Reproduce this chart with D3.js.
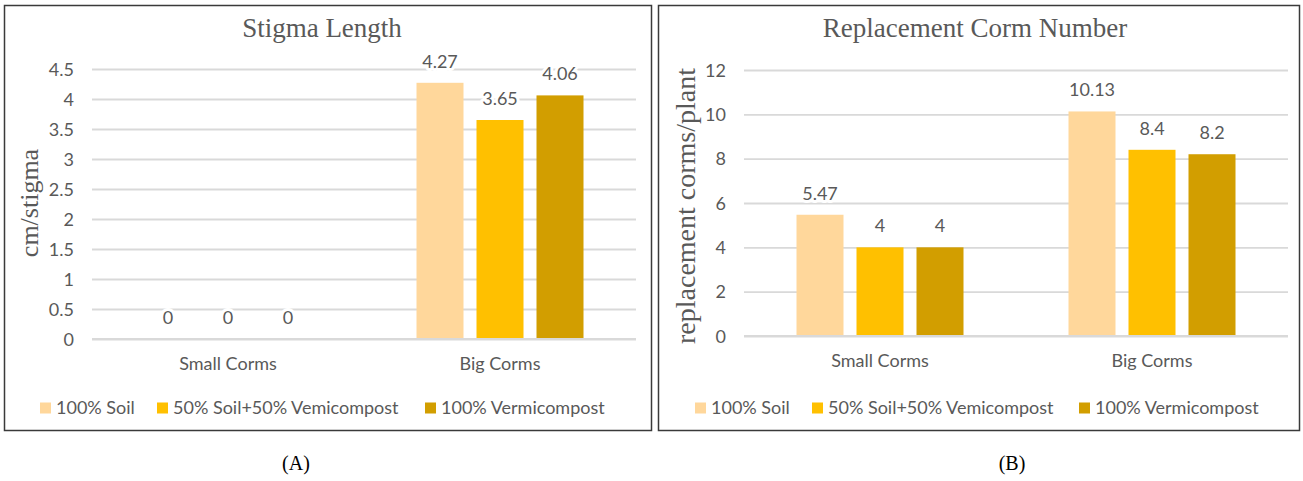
<!DOCTYPE html>
<html>
<head>
<meta charset="utf-8">
<script src="https://cdn.jsdelivr.net/npm/d3@7"></script>
<style>
  html, body { margin: 0; padding: 0; background: #fff; }
  svg { display: block; }
</style>
</head>
<body>
<svg id="chart" width="1303" height="481"></svg>
<script>
// Corm size groups and growing media
const categories = ["Small Corms", "Big Corms"];
const treatments = ["100% Soil", "50% Soil+50% Vemicompost", "100% Vermicompost"];

// Stigma length (cm/stigma) per treatment, ordered as categories
const stigmaSoil = [0, 4.27];
const stigmaMix = [0, 3.65];
const stigmaVermi = [0, 4.06];
const stigmaTicks = ["0", "0.5", "1", "1.5", "2", "2.5", "3", "3.5", "4", "4.5"];

// Replacement corm number (corms/plant)
const cormSoil = [5.47, 10.13];
const cormMix = [4, 8.4];
const cormVermi = [4, 8.2];
const cormTicks = ["0", "2", "4", "6", "8", "10", "12"];

const colors = ["#FFD79B", "#FFC000", "#D29E00"];
const textGrey = "#595959";
const gridGrey = "#D9D9D9";
const sansFont = "Lato, 'Open Sans', sans-serif";
const serifFont = "'Liberation Serif', 'DejaVu Serif', serif";
const sansSize = 18;

const svg = d3.select("#chart");

function drawPanel(opts) {
  const g = svg.append("g");
  const { box, plot } = opts;

  // outer frame
  g.append("rect")
    .attr("x", box.x).attr("y", box.y)
    .attr("width", box.w).attr("height", box.h)
    .attr("fill", "#fff").attr("stroke", "#3a3a3a").attr("stroke-width", 1.5);

  const tickVals = opts.ticks.map(Number);
  const y = d3.scaleLinear()
    .domain([0, d3.max(tickVals)])
    .range([plot.bottom, plot.top]);
  const x0 = d3.scaleBand().domain(categories)
    .range([plot.left, plot.right]).paddingInner(0).paddingOuter(0);
  // inner band holds three bars; outer space is the gap between groups
  const groupW = 167;
  const x1 = d3.scaleBand().domain(treatments)
    .range([0, groupW]).paddingInner(13 / 60).paddingOuter(0);

  // gridlines and y tick labels
  const yAxis = d3.axisLeft(y).tickValues(tickVals)
    .tickSize(-(plot.right - plot.left))
    .tickFormat((d, i) => opts.ticks[i]);
  const ag = g.append("g")
    .attr("transform", `translate(${plot.left},0)`)
    .call(yAxis);
  ag.select(".domain").remove();
  ag.selectAll(".tick line").attr("stroke", gridGrey).attr("stroke-width", 1.8);
  ag.selectAll(".tick text")
    .attr("x", -18).attr("dy", "0.35em")
    .attr("fill", textGrey).attr("font-family", sansFont).attr("font-size", sansSize);

  // bars
  const seriesData = opts.series.map((vals, si) =>
    vals.map((v, ci) => ({ v, cat: categories[ci], t: treatments[si], si })));
  const groups = g.selectAll(".grp").data(categories).join("g")
    .attr("transform", d => `translate(${x0(d) + (x0.bandwidth() - groupW) / 2},0)`);

  groups.each(function (cat, ci) {
    const gg = d3.select(this);
    const rows = seriesData.map(s => s[ci]);
    gg.selectAll("rect").data(rows).join("rect")
      .attr("x", d => x1(d.t))
      .attr("width", x1.bandwidth())
      .attr("y", d => y(d.v))
      .attr("height", d => y(0) - y(d.v))
      .attr("fill", d => colors[d.si]);
    // value labels with a white backing that interrupts gridlines
    const lab = gg.selectAll("g.lab").data(rows).join("g").attr("class", "lab")
      .attr("transform", d => `translate(${x1(d.t) + x1.bandwidth() / 2},${y(d.v) - 15})`);
    lab.append("text")
      .attr("text-anchor", "middle")
      .attr("fill", textGrey).attr("font-family", sansFont).attr("font-size", sansSize)
      .attr("stroke", "#fff").attr("stroke-width", 6).attr("stroke-linejoin", "round")
      .attr("paint-order", "stroke")
      .text(d => String(d.v));
  });

  // x axis baseline
  g.append("line")
    .attr("x1", plot.left).attr("x2", plot.right)
    .attr("y1", y(0)).attr("y2", y(0))
    .attr("stroke", gridGrey).attr("stroke-width", 1.8);

  // category labels
  g.selectAll(".cat").data(categories).join("text")
    .attr("x", d => x0(d) + x0.bandwidth() / 2)
    .attr("y", opts.catY)
    .attr("text-anchor", "middle").attr("dy", "0.35em")
    .attr("fill", textGrey).attr("font-family", sansFont).attr("font-size", sansSize)
    .text(d => d);

  // chart title
  g.append("text")
    .attr("x", opts.titleX).attr("y", 28).attr("dy", "0.35em")
    .attr("text-anchor", "middle")
    .attr("fill", textGrey).attr("font-family", serifFont).attr("font-size", 27)
    .text(opts.title);

  // y axis title
  g.append("text")
    .attr("transform", `translate(${opts.yTitleX},${opts.yTitleY}) rotate(-90)`)
    .attr("text-anchor", "middle").attr("dy", "0.35em")
    .attr("fill", textGrey).attr("font-family", serifFont).attr("font-size", opts.yTitleSize)
    .text(opts.yTitle);

  // legend
  const leg = g.selectAll(".leg").data(treatments).join("g")
    .attr("transform", (d, i) => `translate(${opts.legendX[i]},408)`);
  leg.append("rect")
    .attr("x", 0).attr("y", -5.5).attr("width", 11).attr("height", 11)
    .attr("fill", (d, i) => colors[i]);
  leg.append("text")
    .attr("x", 16).attr("dy", "0.35em")
    .attr("fill", textGrey).attr("font-family", sansFont).attr("font-size", sansSize)
    .text(d => d);

  // panel caption
  svg.append("text")
    .attr("x", opts.captionX).attr("y", 463).attr("dy", "0.35em")
    .attr("text-anchor", "middle")
    .attr("fill", "#000").attr("font-family", serifFont).attr("font-size", 20)
    .text(opts.caption);
}

drawPanel({
  box: { x: 4.5, y: 5.5, w: 647, h: 425 },
  plot: { left: 92, right: 636, top: 69, bottom: 339 },
  ticks: stigmaTicks,
  series: [stigmaSoil, stigmaMix, stigmaVermi],
  title: "Stigma Length",
  titleX: 322,
  yTitle: "cm/stigma",
  yTitleX: 29, yTitleY: 203, yTitleSize: 26,
  catY: 364,
  legendX: [40, 157, 425],
  caption: "(A)",
  captionX: 296
});

drawPanel({
  box: { x: 658.5, y: 5.5, w: 641, h: 425 },
  plot: { left: 744, right: 1288, top: 70, bottom: 336 },
  ticks: cormTicks,
  series: [cormSoil, cormMix, cormVermi],
  title: "Replacement Corm Number",
  titleX: 975,
  yTitle: "replacement corms/plant",
  yTitleX: 685, yTitleY: 206, yTitleSize: 28,
  catY: 361,
  legendX: [695, 812, 1079],
  caption: "(B)",
  captionX: 1012
});
</script>
</body>
</html>
